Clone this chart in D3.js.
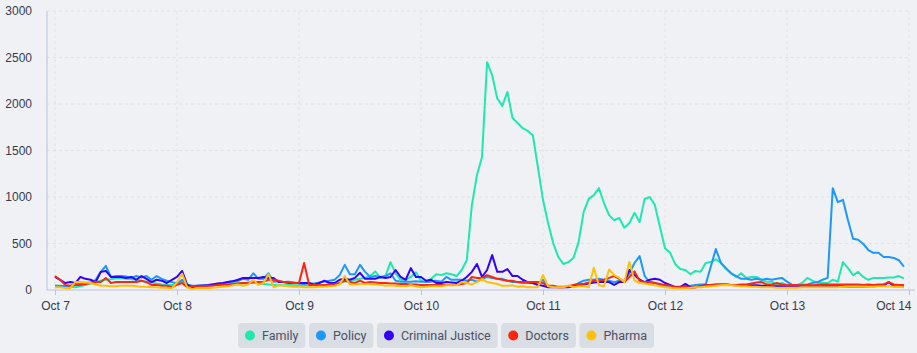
<!DOCTYPE html>
<html lang="en">
<head>
<meta charset="UTF-8">
<title>Mentions by topic</title>
<style>
    body { margin: 0; background: #f0f1f4; }
    svg { display: block; font-family: Roboto, "Noto Sans", sans-serif; }
    .grid line { stroke: #dfe2e8; stroke-dasharray: 3 3; }
    .axisLine { stroke: #b9c2e0; stroke-width: 1px; }
    .tick text { fill: #353b4f; font-size: 12px; font-weight: 500; }
    .series { fill: none; stroke-width: 2px; stroke-linejoin: round; }
    .legend text { fill: #4b5167; font-size: 12.5px; }
</style>
<script src="https://d3js.org/d3.v7.min.js"></script>
</head>
<body>
<div id="chart"></div>
<script>
    // hourly counts, Oct 7 00:00 .. Oct 13 23:00 (one row per day)
    const startDate = new Date(2023, 9, 7);
    const dayTicks = ["Oct 7", "Oct 8", "Oct 9", "Oct 10", "Oct 11", "Oct 12", "Oct 13", "Oct 14"];
    const yTicks = [0, 500, 1000, 1500, 2000, 2500, 3000];
    const seriesNames = ["Family", "Policy", "Criminal Justice", "Doctors", "Pharma"];
    const seriesColors = ["#1ee8b0", "#1b98ff", "#3300ff", "#ff2410", "#ffc107"];

    const family = [
        45, 40, 40, 35, 30, 40, 55, 70, 80, 100, 110, 115, 125, 130, 120, 115, 110, 100, 90, 80, 70, 60, 55, 55,
        60, 100, 50, 35, 40, 40, 45, 50, 55, 60, 60, 70, 75, 70, 80, 90, 70, 65, 60, 55, 50, 50, 55, 50,
        50, 45, 45, 50, 50, 55, 60, 60, 80, 90, 100, 110, 120, 130, 150, 200, 130, 150, 300, 180, 110, 110, 140, 190,
        100, 90, 120, 170, 160, 180, 170, 150, 215, 320, 910, 1235, 1430, 2450, 2310, 2060, 1980, 2130, 1850, 1795, 1740, 1710, 1665, 1320,
        970, 720, 505, 355, 280, 300, 345, 515, 840, 980, 1020, 1095, 935, 805, 750, 775, 670, 720, 830, 730, 980, 1000, 915, 680,
        450, 400, 280, 225, 215, 170, 205, 195, 290, 300, 330, 290, 225, 180, 140, 180, 130, 140, 140, 110, 90, 90, 55, 75,
        55, 45, 55, 75, 130, 100, 75, 75, 75, 110, 90, 300, 235, 160, 195, 140, 110, 130, 130, 130, 135, 135, 150, 125
    ];
    const policy = [
        45, 45, 40, 45, 55, 75, 75, 80, 110, 195, 260, 140, 150, 150, 145, 130, 150, 135, 150, 110, 150, 120, 100, 85,
        70, 110, 60, 45, 45, 50, 55, 60, 65, 70, 85, 95, 100, 120, 110, 180, 120, 120, 180, 90, 95, 85, 90, 80,
        70, 65, 70, 70, 80, 90, 100, 110, 160, 270, 170, 170, 270, 195, 140, 150, 140, 150, 180, 100, 90, 90, 90, 95,
        90, 85, 90, 100, 90, 140, 110, 110, 110, 100, 110, 90, 120, 140, 130, 120, 120, 100, 85, 85, 75, 75, 75, 55,
        110, 45, 40, 35, 35, 40, 45, 75, 100, 110, 110, 120, 110, 100, 85, 100, 100, 180, 290, 365, 150, 85, 75, 55,
        45, 40, 35, 35, 40, 45, 55, 60, 60, 250, 440, 290, 235, 180, 150, 120, 120, 110, 120, 110, 120, 110, 120, 130,
        90, 55, 55, 55, 60, 75, 85, 110, 130, 1095, 945, 970, 750, 550, 540, 495, 430, 400, 400, 355, 355, 345, 320, 250
    ];
    const criminalJustice = [
        140, 110, 75, 85, 75, 140, 120, 110, 85, 195, 205, 140, 140, 140, 130, 140, 110, 150, 120, 85, 110, 100, 75, 110,
        140, 205, 55, 30, 45, 45, 50, 60, 70, 75, 85, 95, 110, 130, 130, 130, 130, 140, 130, 130, 85, 85, 75, 75,
        75, 75, 75, 55, 75, 100, 75, 75, 110, 120, 110, 130, 185, 120, 120, 120, 140, 130, 140, 215, 140, 110, 235, 140,
        140, 100, 110, 75, 75, 85, 80, 75, 100, 140, 195, 280, 140, 215, 375, 195, 195, 225, 150, 150, 110, 85, 75, 55,
        45, 30, 30, 30, 30, 30, 40, 55, 60, 70, 80, 85, 85, 85, 55, 85, 85, 215, 160, 110, 85, 110, 120, 110,
        75, 55, 30, 30, 65, 30, 30, 40, 50, 55, 60, 60, 60, 55, 50, 50, 55, 50, 50, 45, 45, 40, 40, 40,
        40, 35, 35, 35, 35, 35, 35, 40, 40, 40, 40, 40, 35, 35, 35, 35, 40, 40, 45, 45, 85, 40, 40, 35
    ];
    const doctors = [
        150, 110, 55, 45, 55, 55, 65, 75, 85, 85, 130, 75, 85, 85, 85, 85, 85, 100, 85, 55, 55, 45, 45, 30,
        55, 75, 30, 40, 40, 40, 45, 45, 55, 60, 60, 65, 70, 75, 75, 80, 85, 90, 110, 110, 100, 85, 80, 75,
        75, 290, 55, 55, 50, 55, 60, 60, 75, 100, 85, 75, 100, 75, 85, 80, 75, 75, 70, 70, 65, 65, 60, 60,
        55, 55, 55, 55, 55, 55, 55, 55, 65, 75, 140, 130, 130, 160, 140, 120, 110, 100, 100, 85, 85, 85, 85, 85,
        75, 45, 45, 30, 30, 40, 55, 65, 65, 80, 100, 100, 110, 130, 150, 120, 85, 140, 200, 100, 85, 85, 75, 65,
        55, 45, 30, 30, 40, 20, 30, 40, 50, 55, 55, 60, 60, 55, 55, 60, 60, 70, 80, 85, 60, 60, 75, 60,
        50, 55, 50, 50, 55, 50, 55, 60, 60, 60, 60, 60, 60, 60, 60, 55, 60, 55, 60, 60, 85, 60, 55, 55
    ];
    const pharma = [
        30, 30, 20, 20, 85, 85, 80, 75, 60, 45, 45, 40, 40, 45, 45, 45, 40, 35, 35, 30, 30, 25, 25, 20,
        80, 175, 30, 10, 20, 20, 20, 25, 30, 35, 40, 50, 60, 45, 60, 110, 55, 75, 170, 30, 50, 45, 40, 35,
        35, 30, 30, 30, 35, 35, 40, 45, 60, 150, 60, 60, 65, 65, 65, 60, 55, 45, 50, 45, 40, 40, 50, 40,
        30, 35, 40, 40, 40, 50, 50, 50, 85, 75, 60, 85, 120, 85, 75, 65, 45, 45, 50, 35, 40, 30, 30, 30,
        160, 40, 30, 30, 30, 50, 30, 40, 40, 30, 240, 50, 40, 220, 160, 130, 85, 300, 100, 75, 70, 60, 50, 40,
        30, 25, 20, 15, 20, 25, 30, 30, 35, 40, 45, 50, 55, 50, 45, 40, 40, 35, 35, 30, 30, 30, 25, 25,
        25, 25, 25, 30, 30, 30, 30, 30, 30, 30, 30, 35, 35, 35, 35, 35, 35, 35, 40, 40, 40, 35, 35, 30
    ];
    const seriesValues = [family, policy, criminalJustice, doctors, pharma];

    const width = 917, height = 353;
    const margin = {top: 11, right: 8, bottom: 63, left: 47};

    const svg = d3.select("#chart").append("svg")
        .attr("width", width)
        .attr("height", height);

    const hour = 3600 * 1000;
    const dayDates = dayTicks.map((d, i) => new Date(startDate.getTime() + i * 24 * hour));

    const x = d3.scaleTime()
        .domain([dayDates[0], dayDates[dayDates.length - 1]])
        .range([55, 909]);
    const y = d3.scaleLinear()
        .domain([0, 3000])
        .range([height - margin.bottom, margin.top]);

    // grid
    const grid = svg.append("g").attr("class", "grid");
    grid.selectAll(".h").data(yTicks.slice(1)).join("line")
        .attr("x1", margin.left).attr("x2", width - margin.right)
        .attr("y1", d => y(d)).attr("y2", d => y(d));
    grid.selectAll(".v").data(dayDates).join("line")
        .attr("x1", d => x(d)).attr("x2", d => x(d))
        .attr("y1", margin.top).attr("y2", height - margin.bottom);

    // axes
    const yAxis = svg.append("g")
        .attr("transform", `translate(${margin.left},0)`)
        .call(d3.axisLeft(y).tickValues(yTicks).tickSize(0).tickPadding(15).tickFormat(d3.format("d")));
    yAxis.select(".domain").remove();

    const xAxis = svg.append("g")
        .attr("transform", `translate(0,${height - margin.bottom})`)
        .call(d3.axisBottom(x).tickValues(dayDates).tickSize(5).tickPadding(6)
            .tickFormat((d, i) => dayTicks[i]));
    xAxis.select(".domain").remove();
    xAxis.selectAll(".tick line").attr("class", "axisLine");
    // last label is kept inside the frame
    xAxis.selectAll(".tick text").filter((d, i) => i === dayTicks.length - 1)
        .attr("text-anchor", "end").attr("dx", 2);

    svg.append("line").attr("class", "axisLine")
        .attr("x1", margin.left).attr("x2", margin.left)
        .attr("y1", margin.top).attr("y2", height - margin.bottom);
    svg.append("line").attr("class", "axisLine")
        .attr("x1", margin.left).attr("x2", width - margin.right + 6)
        .attr("y1", height - margin.bottom).attr("y2", height - margin.bottom);

    // lines
    const line = d3.line()
        .x((d, i) => x(new Date(startDate.getTime() + i * hour)))
        .y(d => y(d));

    svg.append("g").selectAll("path")
        .data(seriesValues)
        .join("path")
        .attr("class", "series")
        .attr("stroke", (d, i) => seriesColors[i])
        .attr("d", line);

    // legend pills
    const legend = svg.append("g").attr("class", "legend");
    const items = legend.selectAll("g").data(seriesNames).join("g");
    items.append("rect")
        .attr("height", 25).attr("rx", 4)
        .attr("fill", "#d9dde4");
    items.append("circle")
        .attr("cx", 12).attr("cy", 12.5).attr("r", 5)
        .attr("fill", (d, i) => seriesColors[i]);
    items.append("text")
        .attr("x", 24).attr("y", 17)
        .text(d => d);

    const widths = [];
    items.each(function () {
        widths.push(d3.select(this).select("text").node().getComputedTextLength() + 31);
    });
    const total = d3.sum(widths) + 3.5 * (widths.length - 1);
    let offset = 446 - total / 2;
    items.each(function (d, i) {
        d3.select(this).attr("transform", `translate(${offset},323)`)
            .select("rect").attr("width", widths[i]);
        offset += widths[i] + 3.5;
    });
</script>
</body>
</html>
